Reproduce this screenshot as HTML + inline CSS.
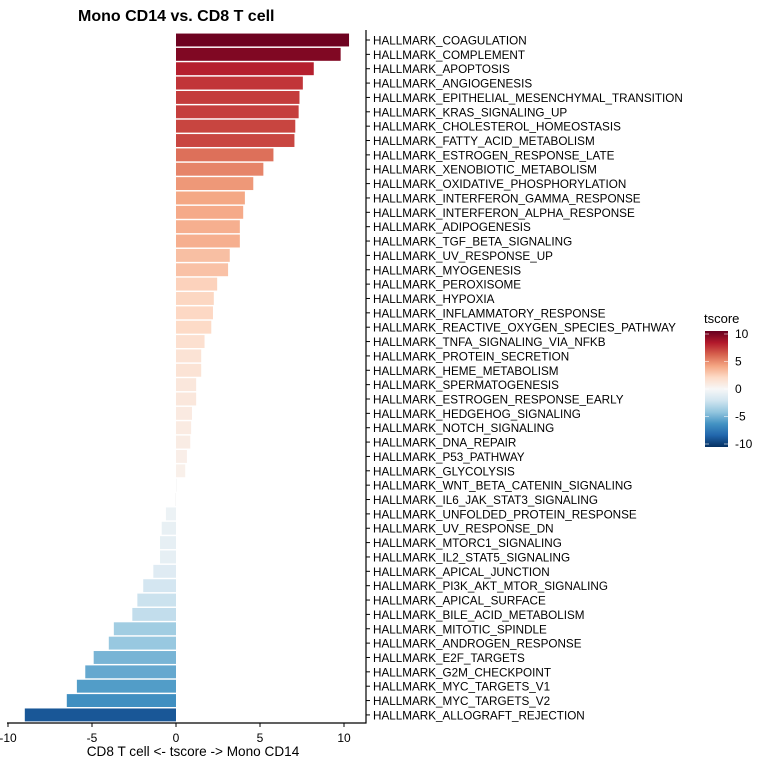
<!DOCTYPE html>
<html><head><meta charset="utf-8"><style>
html,body{margin:0;padding:0;background:#fff;}
svg{display:block;font-family:"Liberation Sans",Arial,sans-serif;}
</style></head><body>
<svg id="chart" width="768" height="768" viewBox="0 0 768 768" xmlns="http://www.w3.org/2000/svg">
<defs>
<linearGradient id="cbar" x1="0" y1="1" x2="0" y2="0">
<stop offset="0" stop-color="#053061"/><stop offset="0.1" stop-color="#2166ac"/><stop offset="0.2" stop-color="#4393c3"/><stop offset="0.3" stop-color="#92c5de"/><stop offset="0.4" stop-color="#d1e5f0"/><stop offset="0.5" stop-color="#f7f7f7"/><stop offset="0.6" stop-color="#fddbc7"/><stop offset="0.7" stop-color="#f4a582"/><stop offset="0.8" stop-color="#d6604d"/><stop offset="0.9" stop-color="#b2182b"/><stop offset="1" stop-color="#67001f"/>
</linearGradient>
</defs>
<text x="78" y="21" font-size="16" font-weight="bold" fill="#000">Mono CD14 vs. CD8 T cell</text>
<g id="bars"></g>
<g id="ylabels"></g>
<g id="xaxis"></g>
<text x="193" y="756" font-size="13.6" text-anchor="middle" fill="#000">CD8 T cell &lt;- tscore -&gt; Mono CD14</text>
<g>
<text x="704" y="323" font-size="13" fill="#000">tscore</text>
<rect x="705" y="331" width="23" height="116" fill="url(#cbar)"/>
<g id="legticks"></g>
</g>
</svg>
<script>
const categories=["HALLMARK_COAGULATION","HALLMARK_COMPLEMENT","HALLMARK_APOPTOSIS","HALLMARK_ANGIOGENESIS","HALLMARK_EPITHELIAL_MESENCHYMAL_TRANSITION","HALLMARK_KRAS_SIGNALING_UP","HALLMARK_CHOLESTEROL_HOMEOSTASIS","HALLMARK_FATTY_ACID_METABOLISM","HALLMARK_ESTROGEN_RESPONSE_LATE","HALLMARK_XENOBIOTIC_METABOLISM","HALLMARK_OXIDATIVE_PHOSPHORYLATION","HALLMARK_INTERFERON_GAMMA_RESPONSE","HALLMARK_INTERFERON_ALPHA_RESPONSE","HALLMARK_ADIPOGENESIS","HALLMARK_TGF_BETA_SIGNALING","HALLMARK_UV_RESPONSE_UP","HALLMARK_MYOGENESIS","HALLMARK_PEROXISOME","HALLMARK_HYPOXIA","HALLMARK_INFLAMMATORY_RESPONSE","HALLMARK_REACTIVE_OXYGEN_SPECIES_PATHWAY","HALLMARK_TNFA_SIGNALING_VIA_NFKB","HALLMARK_PROTEIN_SECRETION","HALLMARK_HEME_METABOLISM","HALLMARK_SPERMATOGENESIS","HALLMARK_ESTROGEN_RESPONSE_EARLY","HALLMARK_HEDGEHOG_SIGNALING","HALLMARK_NOTCH_SIGNALING","HALLMARK_DNA_REPAIR","HALLMARK_P53_PATHWAY","HALLMARK_GLYCOLYSIS","HALLMARK_WNT_BETA_CATENIN_SIGNALING","HALLMARK_IL6_JAK_STAT3_SIGNALING","HALLMARK_UNFOLDED_PROTEIN_RESPONSE","HALLMARK_UV_RESPONSE_DN","HALLMARK_MTORC1_SIGNALING","HALLMARK_IL2_STAT5_SIGNALING","HALLMARK_APICAL_JUNCTION","HALLMARK_PI3K_AKT_MTOR_SIGNALING","HALLMARK_APICAL_SURFACE","HALLMARK_BILE_ACID_METABOLISM","HALLMARK_MITOTIC_SPINDLE","HALLMARK_ANDROGEN_RESPONSE","HALLMARK_E2F_TARGETS","HALLMARK_G2M_CHECKPOINT","HALLMARK_MYC_TARGETS_V1","HALLMARK_MYC_TARGETS_V2","HALLMARK_ALLOGRAFT_REJECTION"];
const tscores=[10.3,9.8,8.2,7.55,7.35,7.3,7.1,7.05,5.8,5.2,4.6,4.1,4.0,3.8,3.8,3.2,3.1,2.45,2.25,2.2,2.1,1.7,1.5,1.5,1.2,1.2,0.95,0.9,0.85,0.65,0.55,0.05,-0.05,-0.6,-0.85,-0.95,-0.95,-1.35,-1.95,-2.3,-2.6,-3.7,-4.0,-4.9,-5.4,-5.9,-6.5,-9.0];
const xTicks=[-10,-5,0,5,10];
const legendTicks=[10,5,0,-5,-10];
const colorLimit=10.5;

const NS="http://www.w3.org/2000/svg";
const x=v=>176+v*16.8;
const yC=i=>40+i*14.36;
const barH=12.9;
const stops=["#053061","#2166ac","#4393c3","#92c5de","#d1e5f0","#f7f7f7","#fddbc7","#f4a582","#d6604d","#b2182b","#67001f"];
function hex(h){return [1,3,5].map(k=>parseInt(h.substr(k,2),16));}
function color(v){let t=(v+colorLimit)/(2*colorLimit);t=Math.max(0,Math.min(1,t))*10;let i=Math.min(9,Math.floor(t)),f=t-i;const a=hex(stops[i]),b=hex(stops[i+1]);return "rgb("+a.map((c,k)=>Math.round(c+(b[k]-c)*f)).join(",")+")";}
function mk(tag,attrs,parent){const e=document.createElementNS(NS,tag);for(const k in attrs)e.setAttribute(k,attrs[k]);parent.appendChild(e);return e;}
const bars=document.getElementById("bars"),yl=document.getElementById("ylabels"),xa=document.getElementById("xaxis"),lt=document.getElementById("legticks");
categories.forEach((c,i)=>{
  const v=tscores[i];
  const r=mk("rect",{x:Math.min(x(0),x(v)),y:yC(i)-barH/2,width:Math.abs(x(v)-x(0)),height:barH,fill:color(v)},bars);
  
  
  const tk=mk("line",{x1:366,x2:370,y1:yC(i),y2:yC(i),stroke:"#000","stroke-width":1},yl);
  
  
  const t=mk("text",{x:373,y:yC(i)+4.5,"font-size":"11.7",fill:"#000"},yl);
  t.textContent=c;
  
  
});
const yline=mk("line",{x1:366,x2:366,y1:30,y2:723.5,stroke:"#000","stroke-width":1.2},yl);


const xline=mk("line",{x1:7,x2:366.5,y1:723,y2:723,stroke:"#000","stroke-width":1.2},xa);


xTicks.forEach(v=>{
  const l=mk("line",{x1:x(v),x2:x(v),y1:723,y2:727,stroke:"#000","stroke-width":1},xa);
  
  
  const t=mk("text",{x:x(v),y:742,"font-size":"12","text-anchor":"middle",fill:"#000"},xa);
  t.textContent=v;
  
  
});
const ly=v=>389-v*5.5;
legendTicks.forEach(v=>{
  mk("line",{x1:705,x2:709,y1:ly(v),y2:ly(v),stroke:"#fff","stroke-width":0.8,opacity:0.7},lt);
  mk("line",{x1:724,x2:728,y1:ly(v),y2:ly(v),stroke:"#fff","stroke-width":0.8,opacity:0.7},lt);
  const t=mk("text",{x:735,y:ly(v)+4,"font-size":"12",fill:"#000"},lt);
  t.textContent=v;
  
  
});
</script>
</body></html>
